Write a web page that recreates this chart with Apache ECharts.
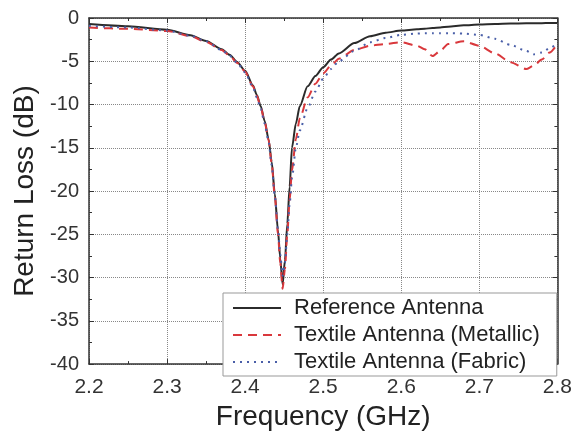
<!DOCTYPE html>
<html>
<head>
<meta charset="utf-8">
<script src="https://cdn.jsdelivr.net/npm/echarts@6/dist/echarts.min.js"></script>
<style>html,body{margin:0;padding:0;background:#fff}#c{width:575px;height:436px}</style>
</head>
<body>
<div id="c"></div>
<script>
var seriesNames = ['Reference Antenna', 'Textile Antenna (Metallic)', 'Textile Antenna (Fabric)'];
var freq = [2.20,2.25,2.30,2.33,2.35,2.37,2.38,2.39,
            2.40,2.41,2.415,2.42,2.425,2.43,2.434,2.438,2.442,2.445,2.448,
            2.451,2.454,2.457,2.46,2.465,2.47,
            2.48,2.49,2.50,2.51,2.52,
            2.54,2.56,2.58,2.60,2.62,2.63,2.64,2.65,2.66,
            2.68,2.70,2.72,2.74,2.76,2.77,2.78,2.79,2.80];
var refLoss = [-0.7,-0.95,-1.35,-2.0,-2.65,-3.6,-4.25,-5.1,
               -6.1,-7.8,-8.9,-10.2,-11.9,-14.0,-16.6,-20.3,-24.5,-27.8,-30.8,
               -28.0,-23.8,-19.5,-15.0,-12.2,-10.2,
               -7.9,-6.7,-5.7,-4.8,-4.1,
               -2.9,-2.1,-1.7,-1.45,-1.3,-1.25,-1.15,-1.1,-1.0,
               -0.85,-0.75,-0.7,-0.65,-0.62,-0.6,-0.6,-0.58,-0.58];
var metallicLoss = [-1.1,-1.25,-1.5,-2.1,-2.75,-3.7,-4.35,-5.2,
                    -6.2,-7.9,-9.0,-10.3,-12.0,-14.1,-16.8,-20.6,-24.9,-28.3,-31.3,
                    -29,-25,-21,-17.6,-14.0,-11.6,
                    -9.2,-7.6,-6.4,-5.5,-4.7,
                    -3.7,-3.2,-3.0,-2.8,-3.2,-3.6,-4.4,-3.8,-3.0,
                    -2.7,-3.2,-4.1,-5.1,-5.9,-5.5,-4.8,-4.0,-3.0];
var fabricLoss = [-0.9,-1.1,-1.45,-2.05,-2.7,-3.7,-4.35,-5.2,
                  -6.3,-8.0,-9.2,-10.5,-12.2,-14.3,-17.0,-20.6,-24.4,-27.3,-29.8,
                  -28.3,-25,-21.5,-18.5,-15.0,-13.0,
                  -10.4,-8.5,-7.0,-5.9,-5.0,
                  -3.8,-2.8,-2.3,-1.95,-1.8,-1.75,-1.75,-1.75,-1.75,
                  -1.8,-1.95,-2.4,-3.1,-3.8,-4.2,-4.0,-3.5,-2.9];
var xTicks = [2.2, 2.8, 0.1];
var yTicks = [-40, 0, 5];

function pairs(v){ return freq.map(function(f,i){ return [f, v[i]]; }); }
var FONT = 'Liberation Sans, Arial, sans-serif';
var chart = echarts.init(document.getElementById('c'), null, {renderer:'canvas'});
var tickCommon = {show:true, inside:true, length:5, lineStyle:{color:'#333', width:1}};
var minorCommon = {show:true, splitNumber:2, length:3, lineStyle:{color:'#333', width:1}};
chart.setOption({
  animation:false,
  backgroundColor:'#fff',
  grid:{left:89, right:17, top:18, bottom:62, containLabel:false},
  xAxis:[{
    type:'value', min:xTicks[0], max:xTicks[1], interval:xTicks[2],
    name:'Frequency (GHz)', nameLocation:'middle', nameGap:30,
    nameTextStyle:{fontFamily:FONT, fontSize:28, color:'#222'},
    axisLine:{show:true, onZero:false, lineStyle:{color:'#333', width:1.5}},
    axisTick:tickCommon, minorTick:minorCommon,
    axisLabel:{fontFamily:FONT, fontSize:21, color:'#333', margin:13, formatter:function(v){return v.toFixed(1);}},
    splitLine:{show:true, lineStyle:{color:'#888', type:'dotted', width:1}}
  },{
    type:'value', position:'top', min:xTicks[0], max:xTicks[1], interval:xTicks[2],
    axisLine:{show:true, onZero:false, lineStyle:{color:'#333', width:1.5}},
    axisTick:tickCommon, minorTick:minorCommon, axisLabel:{show:false}, splitLine:{show:false}
  }],
  yAxis:[{
    type:'value', min:yTicks[0], max:yTicks[1], interval:yTicks[2],
    name:'Return Loss (dB)', nameLocation:'middle', nameGap:48,
    nameTextStyle:{fontFamily:FONT, fontSize:28, color:'#222'},
    axisLine:{show:true, onZero:false, lineStyle:{color:'#333', width:1.5}},
    axisTick:tickCommon, minorTick:minorCommon,
    axisLabel:{fontFamily:FONT, fontSize:20, color:'#333', margin:10},
    splitLine:{show:true, lineStyle:{color:'#888', type:'dotted', width:1}}
  },{
    type:'value', position:'right', min:yTicks[0], max:yTicks[1], interval:yTicks[2],
    axisLine:{show:true, onZero:false, lineStyle:{color:'#333', width:1.5}},
    axisTick:tickCommon, minorTick:minorCommon, axisLabel:{show:false}, splitLine:{show:false}
  }],
  legend:{
    orient:'vertical', left:223, top:293,
    padding:[4,17,3,9], itemGap:5, itemWidth:48, itemHeight:22,
    backgroundColor:'#fff', borderColor:'#999', borderWidth:1, borderRadius:0,
    itemStyle:{opacity:0},
    textStyle:{fontFamily:FONT, fontSize:22, color:'#222', padding:[0,0,0,8]},
    data:seriesNames
  },
  series:[
    {name:seriesNames[0], type:'line', data:pairs(refLoss), symbol:'none', smooth:0.25, smoothMonotone:'x',
     lineStyle:{color:'#2b2b2b', width:2, type:'solid'}, itemStyle:{color:'#2b2b2b'}},
    {name:seriesNames[1], type:'line', data:pairs(metallicLoss), symbol:'none', smooth:0.25, smoothMonotone:'x',
     lineStyle:{color:'#d9383c', width:2, type:[9,6]}, itemStyle:{color:'#d9383c'}},
    {name:seriesNames[2], type:'line', data:pairs(fabricLoss), symbol:'none', smooth:0.25, smoothMonotone:'x',
     lineStyle:{color:'#4a5fa8', width:2, type:[2,5]}, itemStyle:{color:'#4a5fa8'}}
  ]
});
</script>
</body>
</html>
